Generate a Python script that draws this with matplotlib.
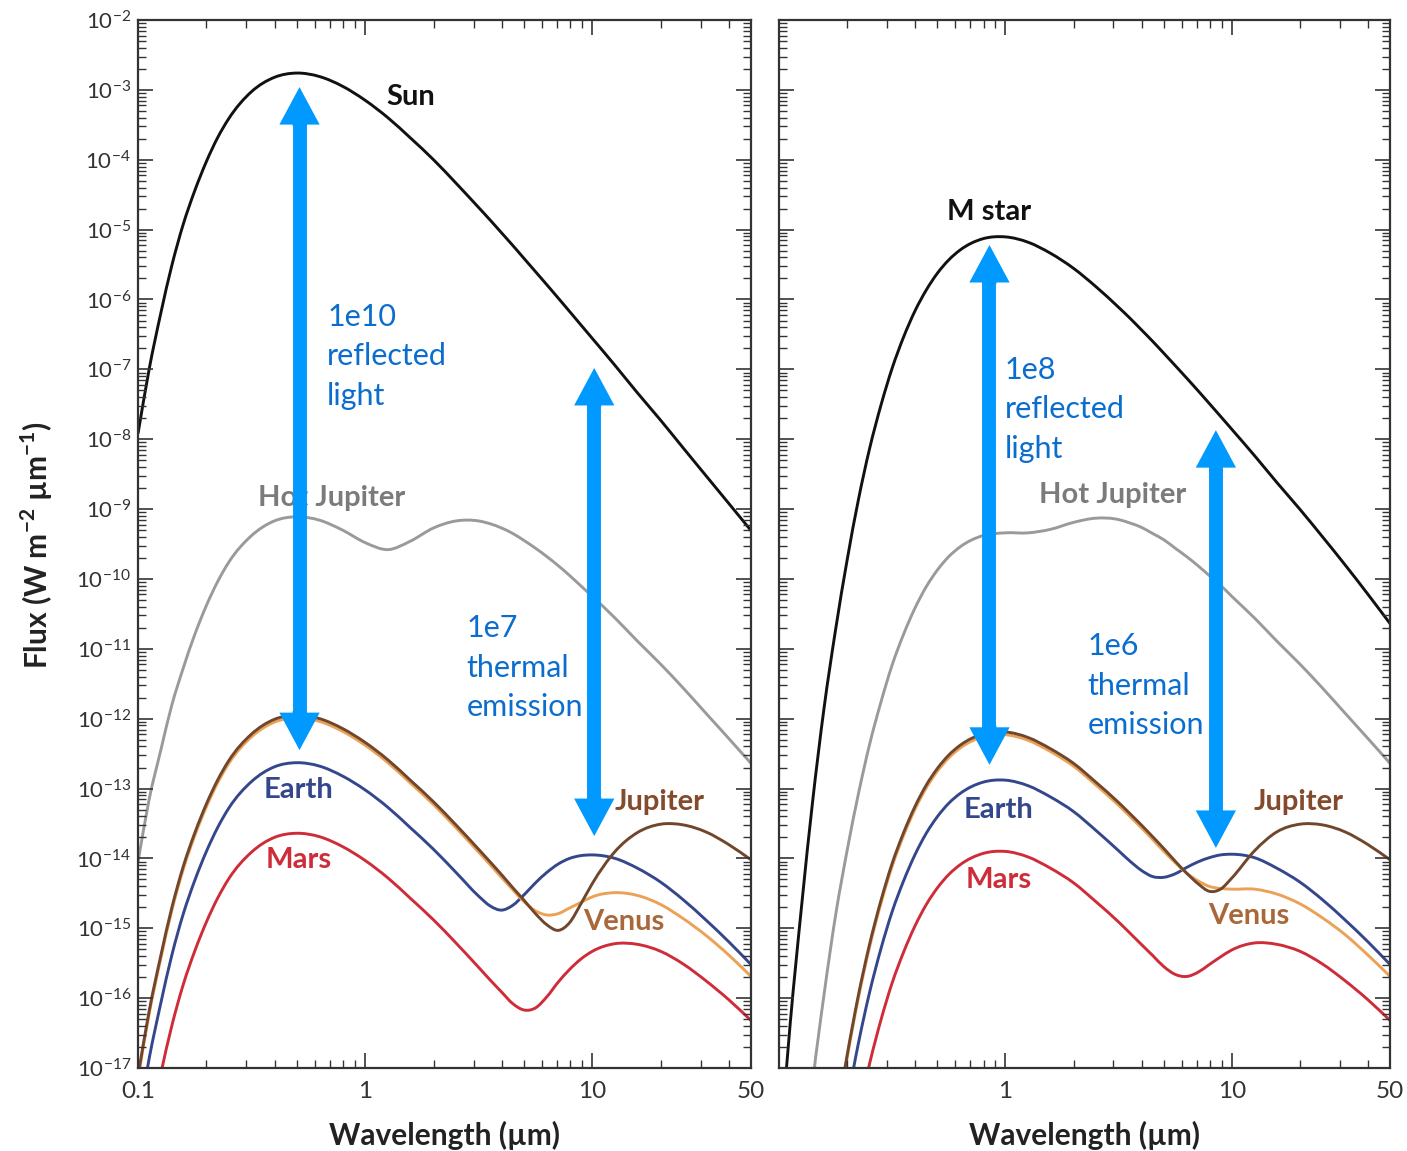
import numpy as np
import matplotlib
matplotlib.use("Agg")
import matplotlib.pyplot as plt
from matplotlib.path import Path
from matplotlib.patches import PathPatch
from matplotlib.ticker import LogLocator, FixedLocator, FixedFormatter, NullFormatter

# wavelength grids (micron)
wl_sun = [0.1, 0.112, 0.126, 0.141, 0.158, 0.178, 0.2, 0.224, 0.251, 0.316, 0.398,
          0.501, 0.631, 0.794, 1.0, 1.26, 1.58, 2.0, 2.51, 3.16, 3.55, 3.98, 4.47,
          5.01, 5.62, 6.31, 7.08, 7.94, 8.91, 10.0, 12.6, 15.8, 20.0, 25.1, 31.6,
          39.8, 50.0]
wl_mstar = [0.1, 0.112, 0.126, 0.141, 0.158, 0.178, 0.2, 0.224, 0.251, 0.282, 0.316,
            0.355, 0.398, 0.447, 0.501, 0.562, 0.631, 0.794, 1.0, 1.26, 1.58, 2.0,
            2.51, 3.16, 3.55, 3.98, 4.47, 5.01, 5.62, 6.31, 7.08, 7.94, 8.91, 10.0,
            12.6, 15.8, 20.0, 25.1, 31.6, 39.8, 50.0]

# log10 flux (W m^-2 um^-1), Sun system
sun_log = [-7.919, -6.993, -6.195, -5.508, -4.928, -4.437, -4.025, -3.685, -3.410,
           -3.025, -2.821, -2.759, -2.810, -2.947, -3.149, -3.399, -3.686, -4.000,
           -4.334, -4.684, -4.863, -5.044, -5.228, -5.414, -5.601, -5.790, -5.980,
           -6.171, -6.364, -6.557, -6.945, -7.336, -7.729, -8.123, -8.519, -8.915,
           -9.308]
hotjup_sun_log = [-14.05, -13.15, -12.45, -11.80, -11.28, -10.79, -10.38, -10.04, -9.76,
                  -9.38, -9.17, -9.11, -9.16, -9.30, -9.48, -9.58, -9.46, -9.27, -9.17,
                  -9.17, -9.21, -9.27, -9.35, -9.45, -9.56, -9.68, -9.81, -9.95, -10.10,
                  -10.25, -10.56, -10.89, -11.22, -11.56, -11.92, -12.28, -12.64]
jupiter_sun_log = [-17.11, -16.18, -15.39, -14.70, -14.12, -13.63, -13.22, -12.88, -12.60,
                   -12.22, -12.01, -11.95, -12.00, -12.14, -12.34, -12.59, -12.88, -13.19,
                   -13.52, -13.87, -14.05, -14.23, -14.42, -14.60, -14.79, -14.95, -15.03,
                   -14.92, -14.65, -14.36, -13.90, -13.63, -13.51, -13.52, -13.62, -13.80,
                   -14.02]
venus_sun_log = [-17.15, -16.22, -15.43, -14.74, -14.16, -13.67, -13.26, -12.92, -12.64,
                 -12.26, -12.05, -11.99, -12.04, -12.18, -12.38, -12.63, -12.92, -13.23,
                 -13.56, -13.91, -14.09, -14.27, -14.45, -14.62, -14.75, -14.81, -14.79,
                 -14.71, -14.63, -14.55, -14.49, -14.53, -14.66, -14.86, -15.10, -15.38,
                 -15.69]
earth_sun_log = [-17.79, -16.86, -16.07, -15.38, -14.80, -14.31, -13.90, -13.56, -13.28,
                 -12.90, -12.69, -12.63, -12.68, -12.82, -13.02, -13.27, -13.56, -13.87,
                 -14.20, -14.54, -14.68, -14.74, -14.67, -14.52, -14.35, -14.20, -14.08,
                 -14.00, -13.96, -13.95, -14.00, -14.14, -14.34, -14.59, -14.88, -15.19,
                 -15.52]
mars_sun_log = [-18.80, -17.87, -17.08, -16.39, -15.81, -15.32, -14.91, -14.57, -14.29,
                -13.91, -13.70, -13.64, -13.69, -13.83, -14.03, -14.28, -14.57, -14.88,
                -15.21, -15.56, -15.74, -15.91, -16.08, -16.17, -16.14, -15.98, -15.77,
                -15.59, -15.44, -15.33, -15.22, -15.23, -15.33, -15.51, -15.75, -16.02,
                -16.32]

# log10 flux, M star system
mstar_log = [-18.314, -16.364, -14.654, -13.157, -11.850, -10.711, -9.723, -8.870,
             -8.137, -7.511, -6.982, -6.536, -6.167, -5.864, -5.622, -5.433, -5.291,
             -5.131, -5.104, -5.181, -5.338, -5.555, -5.817, -6.112, -6.269, -6.432,
             -6.599, -6.771, -6.946, -7.124, -7.304, -7.487, -7.672, -7.859, -8.236,
             -8.619, -9.005, -9.394, -9.797, -10.215, -10.640]
hotjup_m_log = [-22.56, -20.61, -18.90, -17.20, -15.95, -14.80, -13.88, -13.08, -12.37,
                -11.76, -11.23, -10.79, -10.42, -10.11, -9.87, -9.68, -9.54, -9.38, -9.34,
                -9.34, -9.29, -9.19, -9.13, -9.15, -9.20, -9.26, -9.35, -9.44, -9.56, -9.68,
                -9.81, -9.95, -10.09, -10.25, -10.56, -10.89, -11.22, -11.56, -11.92,
                -12.28, -12.64]
jupiter_m_log = [-25.40, -23.45, -21.74, -20.25, -18.94, -17.80, -16.81, -15.96, -15.23,
                 -14.60, -14.07, -13.63, -13.26, -12.95, -12.71, -12.52, -12.38, -12.22,
                 -12.19, -12.27, -12.43, -12.64, -12.91, -13.20, -13.36, -13.52, -13.69,
                 -13.86, -14.04, -14.21, -14.36, -14.47, -14.44, -14.28, -13.89, -13.62,
                 -13.51, -13.52, -13.62, -13.80, -14.02]
venus_m_log = [-25.44, -23.49, -21.78, -20.29, -18.98, -17.84, -16.85, -16.00, -15.27,
               -14.64, -14.11, -13.67, -13.30, -12.99, -12.75, -12.56, -12.42, -12.26,
               -12.23, -12.31, -12.47, -12.68, -12.95, -13.24, -13.40, -13.56, -13.73,
               -13.90, -14.06, -14.21, -14.32, -14.40, -14.43, -14.44, -14.44, -14.51,
               -14.65, -14.85, -15.09, -15.38, -15.69]
earth_m_log = [-26.09, -24.14, -22.43, -20.94, -19.63, -18.49, -17.50, -16.65, -15.92,
               -15.29, -14.76, -14.32, -13.95, -13.64, -13.40, -13.21, -13.07, -12.91,
               -12.88, -12.96, -13.12, -13.33, -13.60, -13.89, -14.04, -14.17, -14.26,
               -14.27, -14.22, -14.13, -14.05, -13.99, -13.95, -13.94, -13.99, -14.14,
               -14.34, -14.59, -14.88, -15.19, -15.52]
mars_m_log = [-27.11, -25.16, -23.45, -21.96, -20.65, -19.51, -18.52, -17.67, -16.94,
              -16.31, -15.78, -15.34, -14.97, -14.66, -14.42, -14.23, -14.09, -13.93,
              -13.90, -13.98, -14.14, -14.35, -14.62, -14.91, -15.07, -15.23, -15.39,
              -15.55, -15.66, -15.69, -15.63, -15.52, -15.41, -15.31, -15.21, -15.23,
              -15.33, -15.51, -15.75, -16.02, -16.32]

STAR = "#111111"
HOTJ = "#9a9a9a"
JUP = "#70462c"
VEN = "#eba257"
EAR = "#34478c"
MAR = "#cf2c3a"
ARROW = "#0099ff"
NOTE = "#0b6ecf"

plt.rcParams['font.family'] = ['Lato', 'DejaVu Sans']
plt.rcParams['mathtext.fontset'] = 'custom'
plt.rcParams['mathtext.rm'] = 'Lato'
plt.rcParams['mathtext.bf'] = 'Lato:bold'
plt.rcParams['axes.unicode_minus'] = True

fig = plt.figure(figsize=(14.07, 11.51), dpi=100)
ax1 = fig.add_axes([0.0981, 0.0721, 0.4357, 0.9105])
ax2 = fig.add_axes([0.5537, 0.0721, 0.4343, 0.9105])


def setup(ax, xlabels):
    ax.set_xscale('log')
    ax.set_yscale('log')
    ax.set_xlim(0.1, 50)
    ax.set_ylim(1e-17, 1e-2)
    ax.xaxis.set_major_locator(FixedLocator([0.1, 1, 10, 50]))
    ax.xaxis.set_major_formatter(FixedFormatter(xlabels))
    ax.xaxis.set_minor_locator(LogLocator(base=10, subs=np.arange(2, 10), numticks=30))
    ax.xaxis.set_minor_formatter(NullFormatter())
    ax.yaxis.set_major_locator(LogLocator(base=10, numticks=30))
    ax.yaxis.set_minor_locator(LogLocator(base=10, subs=np.arange(2, 10), numticks=30))
    ax.yaxis.set_minor_formatter(NullFormatter())
    ax.tick_params(which='both', direction='in', top=True, right=True, colors='#333333')
    ax.tick_params(which='major', length=11, width=1.2)
    ax.tick_params(which='minor', length=6, width=1.0)
    ax.tick_params(axis='x', which='major', pad=9, labelsize=17.5)
    ax.tick_params(axis='y', which='major', pad=5, labelsize=16)
    for s in ax.spines.values():
        s.set_linewidth(1.6)
        s.set_color('#333333')
    ax.set_xlabel("Wavelength (µm)", fontsize=21.5, fontweight='bold',
                  color='#222222', labelpad=14)


def smooth_line(ax, wl, vals, col):
    # cubic Hermite segments through the points, in log-log space
    x = np.log10(wl)
    y = np.array(vals, dtype=float)
    h = np.diff(x)
    d = np.diff(y) / h
    m = np.empty_like(y)
    m[0], m[-1] = d[0], d[-1]
    m[1:-1] = (d[:-1] * h[1:] + d[1:] * h[:-1]) / (h[:-1] + h[1:])
    verts = [(x[0], y[0])]
    codes = [Path.MOVETO]
    for i in range(len(h)):
        verts += [(x[i] + h[i] / 3, y[i] + m[i] * h[i] / 3),
                  (x[i + 1] - h[i] / 3, y[i + 1] - m[i + 1] * h[i] / 3),
                  (x[i + 1], y[i + 1])]
        codes += [Path.CURVE4] * 3
    v = 10 ** np.array(verts)
    ax.add_patch(PathPatch(Path(v, codes), fill=False, ec=col, lw=2.1,
                           capstyle='butt', joinstyle='round'))


def double_arrow(ax, x, y_top, y_bot):
    lt, lb = np.log10(y_top), np.log10(y_bot)
    # shaft runs into both heads; heads are drawn with almost no tail
    ax.plot([x, x], [10 ** (lt - 0.45), 10 ** (lb + 0.45)], color=ARROW, lw=10,
            solid_capstyle='butt', zorder=6)
    for tip, start in ((lt, lt - 0.56), (lb, lb + 0.56)):
        ax.annotate('', xy=(x, 10 ** tip), xytext=(x, 10 ** start), zorder=6,
                    arrowprops=dict(arrowstyle='simple,head_length=1.35,head_width=1.45,tail_width=0.5',
                                    fc=ARROW, ec='none', lw=0, shrinkA=0, shrinkB=0,
                                    mutation_scale=20))


def label(ax, x, y, s, col):
    ax.text(x, y, s, color=col, fontsize=21, fontweight='bold', ha='center', va='center')


def note(ax, x, y, s):
    ax.text(x, y, s, color=NOTE, fontsize=22, ha='left', va='center', linespacing=1.5)


# Sun panel
setup(ax1, ['0.1', '1', '10', '50'])
for vals, col in [(sun_log, STAR), (hotjup_sun_log, HOTJ), (mars_sun_log, MAR),
                  (earth_sun_log, EAR), (venus_sun_log, VEN), (jupiter_sun_log, JUP)]:
    smooth_line(ax1, wl_sun, vals, col)
label(ax1, 1.59, 10 ** -3.10, "Sun", STAR)
label(ax1, 0.71, 10 ** -8.84, "Hot Jupiter", "#7b7b7b")
label(ax1, 0.508, 10 ** -13.02, "Earth", EAR)
label(ax1, 0.51, 10 ** -14.02, "Mars", MAR)
label(ax1, 19.7, 10 ** -13.19, "Jupiter", "#834a2c")
label(ax1, 13.7, 10 ** -14.91, "Venus", "#a8683a")
double_arrow(ax1, 0.514, 10 ** -2.96, 10 ** -12.45)
double_arrow(ax1, 10.2, 10 ** -6.98, 10 ** -13.68)
note(ax1, 0.68, 10 ** -6.81, "1e10\nreflected\nlight")
note(ax1, 2.8, 10 ** -11.27, "1e7\nthermal\nemission")

# M star panel
setup(ax2, ['', '1', '10', '50'])
ax2.yaxis.set_major_formatter(NullFormatter())
for vals, col in [(mstar_log, STAR), (hotjup_m_log, HOTJ), (mars_m_log, MAR),
                  (earth_m_log, EAR), (venus_m_log, VEN), (jupiter_m_log, JUP)]:
    smooth_line(ax2, wl_mstar, vals, col)
label(ax2, 0.85, 10 ** -4.75, "M star", STAR)
label(ax2, 2.98, 10 ** -8.80, "Hot Jupiter", "#7b7b7b")
label(ax2, 0.93, 10 ** -13.31, "Earth", EAR)
label(ax2, 0.93, 10 ** -14.31, "Mars", MAR)
label(ax2, 19.7, 10 ** -13.19, "Jupiter", "#834a2c")
label(ax2, 11.9, 10 ** -14.82, "Venus", "#a8683a")
double_arrow(ax2, 0.85, 10 ** -5.22, 10 ** -12.66)
double_arrow(ax2, 8.5, 10 ** -7.87, 10 ** -13.85)
note(ax2, 0.99, 10 ** -7.57, "1e8\nreflected\nlight")
note(ax2, 2.31, 10 ** -11.53, "1e6\nthermal\nemission")

fig.text(0.026, 0.5265, r"Flux (W m$^{\mathbf{-2}}$ µm$^{\mathbf{-1}}$)", rotation=90,
         fontsize=21.5, fontweight='bold', color='#222222', ha='center', va='center')

fig.savefig("out.png", dpi=100)
